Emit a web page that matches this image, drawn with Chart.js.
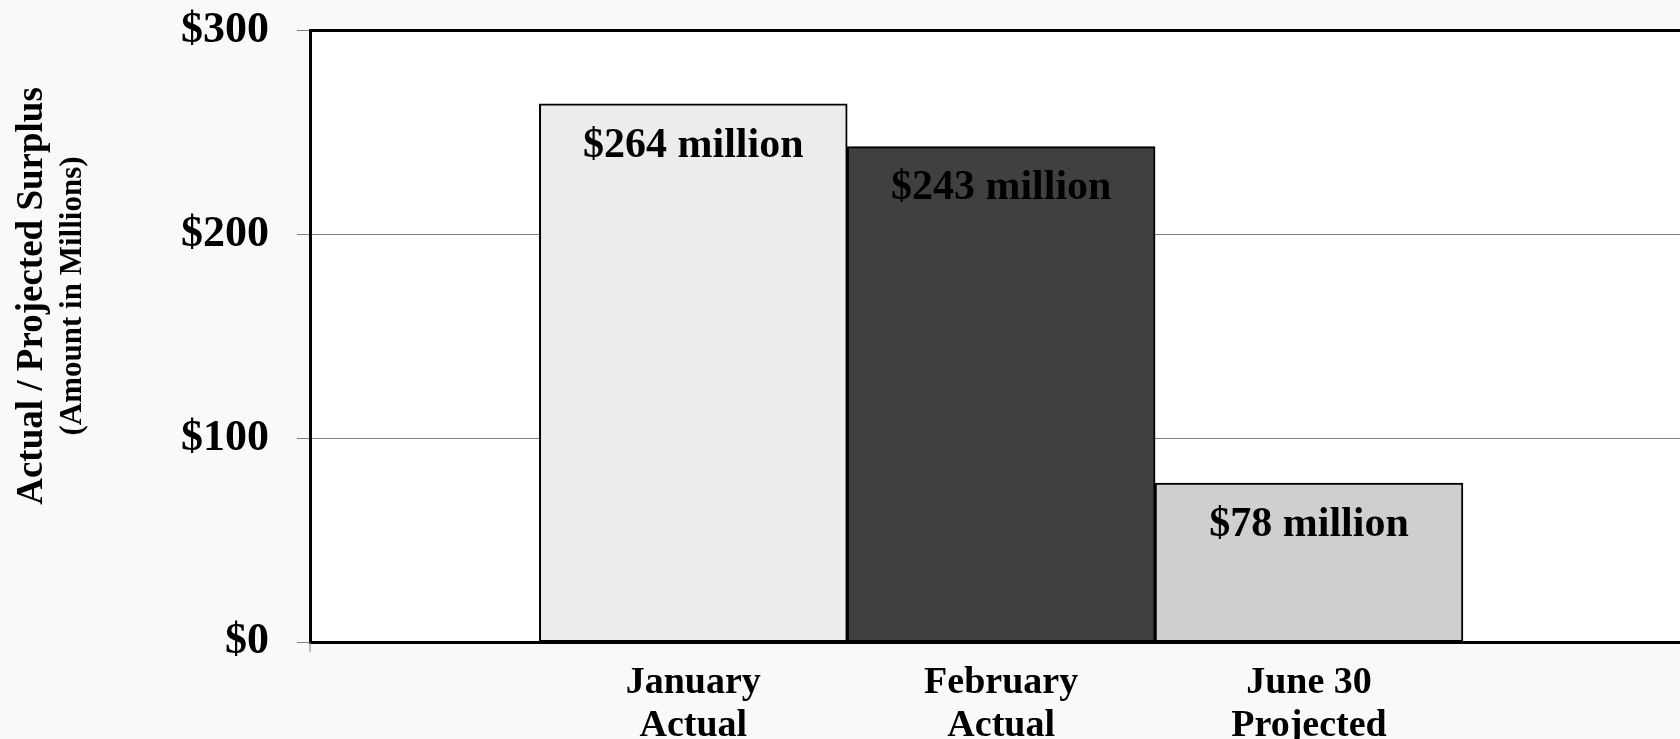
<!DOCTYPE html>
<html>
<head>
<meta charset="utf-8">
<title>Surplus</title>
<script src="https://cdn.jsdelivr.net/npm/chart.js@4.4.1/dist/chart.umd.min.js"></script>
<style>
  html, body { margin: 0; padding: 0; background: #f9f9f9; overflow: hidden; }
  #wrap { position: relative; width: 1700px; height: 802px; margin-top: -24px; }
</style>
</head>
<body>
<div id="wrap"><canvas id="myChart"></canvas></div>
<script>
const categories = [['January', 'Actual'], ['February', 'Actual'], ['June 30', 'Projected']];
const surplus = [264, 243, 78];
const barColors = ['#ececec', '#404040', '#cfcfcf'];
const yTicks = [0, 100, 200, 300];

const serif = '"Liberation Serif", "Times New Roman", serif';

// white plot area behind the bars, plus the small tick under the left corner
const plotBg = {
    id: 'plotBg',
    beforeDraw(chart) {
        const a = chart.chartArea;
        const c = chart.ctx;
        c.save();
        c.fillStyle = '#ffffff';
        c.fillRect(a.left, a.top, a.right - a.left, a.bottom - a.top);
        c.restore();
    },
    afterDraw(chart) {
        const a = chart.chartArea;
        const c = chart.ctx;
        c.save();
        c.strokeStyle = '#808080';
        c.lineWidth = 1;
        c.beginPath();
        c.moveTo(a.left, a.bottom);
        c.lineTo(a.left, a.bottom + 10);
        c.stroke();
        c.restore();
    }
};

// "$264 million" etc. inside the top of each bar
const valueLabels = {
    id: 'valueLabels',
    afterDatasetsDraw(chart) {
        const c = chart.ctx;
        const bars = chart.getDatasetMeta(0).data;
        c.save();
        c.font = 'bold 42px ' + serif;
        c.fillStyle = '#000';
        c.textAlign = 'center';
        c.textBaseline = 'middle';
        bars.forEach((bar, i) => {
            c.fillText('$' + surplus[i] + ' million', bar.x, bar.y + 42);
        });
        c.restore();
    }
};

// two-line rotated axis title, second line smaller
const yTitle = {
    id: 'yTitle',
    afterDraw(chart) {
        const c = chart.ctx;
        c.save();
        c.fillStyle = '#000';
        c.textAlign = 'center';
        c.textBaseline = 'middle';
        c.translate(32, 296 + 24);
        c.rotate(-Math.PI / 2);
        c.font = 'bold 37px ' + serif;
        c.fillText('Actual / Projected Surplus', 0, 0);
        c.font = 'bold 31px ' + serif;
        c.fillText('(Amount in Millions)', 0, 41);
        c.restore();
    }
};

new Chart(document.getElementById('myChart'), {
    type: 'bar',
    data: {
        datasets: [{
            data: surplus.map((v, i) => ({ x: i, y: v })),
            backgroundColor: barColors,
            borderColor: '#000',
            borderWidth: 2,
            borderSkipped: false,
            barPercentage: 1,
            categoryPercentage: 1
        }]
    },
    options: {
        responsive: true,
        maintainAspectRatio: false,
        animation: false,
        layout: { padding: { left: 180, top: 6, right: 0, bottom: 18 } },
        plugins: { legend: { display: false }, tooltip: { enabled: false } },
        scales: {
            x: {
                type: 'linear',
                min: -1.245,
                max: 3.27,
                offset: false,
                afterBuildTicks(scale) {
                    scale.ticks = categories.map((c, i) => ({ value: i }));
                },
                grid: { display: false },
                border: { display: true, color: '#000', width: 3 },
                ticks: {
                    maxRotation: 0,
                    autoSkip: false,
                    padding: 12,
                    color: '#000',
                    font: { family: serif, size: 38, weight: 'bold', lineHeight: 1.13 },
                    callback: (v) => categories[v]
                }
            },
            y: {
                min: 0,
                max: 300,
                afterBuildTicks(scale) {
                    scale.ticks = yTicks.map(v => ({ value: v }));
                },
                afterFit(scale) { scale.width = 130; },
                grid: {
                    color: (ctx) => ctx.tick && ctx.tick.value === 300 ? '#000' : '#808080',
                    lineWidth: (ctx) => ctx.tick && ctx.tick.value === 300 ? 3 : 1,
                    tickColor: '#808080',
                    tickWidth: 1,
                    tickLength: 13
                },
                border: { display: true, color: '#000', width: 3 },
                ticks: {
                    padding: 28,
                    color: '#000',
                    font: { family: serif, size: 44, weight: 'bold' },
                    callback: (v) => '$' + v
                }
            }
        }
    },
    plugins: [plotBg, valueLabels, yTitle]
});
</script>
</body>
</html>
